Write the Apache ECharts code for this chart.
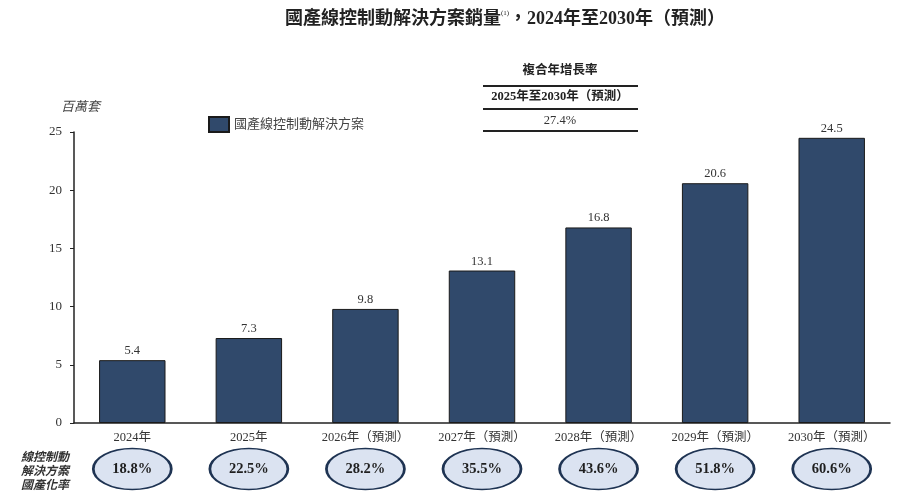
<!DOCTYPE html>
<html>
<head>
<meta charset="utf-8">
<script src="https://cdn.jsdelivr.net/npm/echarts@6/dist/echarts.min.js"></script>
<style>
html,body{margin:0;padding:0;background:#fff;}
#c{width:900px;height:503px;}
</style>
</head>
<body>
<div id="c"></div>
<script>
const categories = ['2024年','2025年','2026年（預測）','2027年（預測）','2028年（預測）','2029年（預測）','2030年（預測）'];
const salesValues = [5.4, 7.3, 9.8, 13.1, 16.8, 20.6, 24.5];
const localizationRates = ['18.8%','22.5%','28.2%','35.5%','43.6%','51.8%','60.6%'];
const yTicks = [0, 5, 10, 15, 20, 25];
const seriesName = '國產線控制動解決方案';
const cagrHeader = '複合年增長率';
const cagrPeriod = '2025年至2030年（預測）';
const cagrValue = '27.4%';

const SERIF = '"Liberation Serif","DejaVu Serif","Noto Sans CJK TC",serif';
const chart = echarts.init(document.getElementById('c'));

chart.setOption({
  backgroundColor: '#ffffff',
  animation: false,
  textStyle: { fontFamily: SERIF },
  legend: {
    left: 203, top: 111,
    itemWidth: 20, itemHeight: 15, itemGap: 6,
    icon: 'rect',
    textStyle: { fontFamily: SERIF, fontSize: 13, color: '#444' },
    data: [seriesName]
  },
  grid: [
    { left: 74, right: 10, top: 132, bottom: 80 },
    { left: 74, right: 10, top: 448, height: 42 }
  ],
  xAxis: [
    {
      type: 'category', gridIndex: 0, data: categories,
      axisLine: { lineStyle: { color: '#222', width: 1.5 } },
      axisTick: { show: false },
      axisLabel: { fontFamily: SERIF, fontSize: 12.5, color: '#333', margin: 8, interval: 0 }
    },
    {
      type: 'category', gridIndex: 1, data: categories,
      axisLine: { show: false }, axisTick: { show: false }, axisLabel: { show: false }
    }
  ],
  yAxis: [
    {
      type: 'value', gridIndex: 0, min: yTicks[0], max: yTicks[yTicks.length - 1], interval: 5,
      axisLine: { show: true, lineStyle: { color: '#222', width: 1.5 } },
      axisTick: { show: true, inside: false, length: 4, lineStyle: { color: '#222' } },
      axisLabel: { fontFamily: SERIF, fontSize: 13, color: '#333', margin: 12 },
      splitLine: { show: false }
    },
    {
      type: 'value', gridIndex: 1, min: -1, max: 1, show: false
    }
  ],
  series: [
    {
      name: seriesName, type: 'bar', xAxisIndex: 0, yAxisIndex: 0,
      data: salesValues, barWidth: '57%',
      itemStyle: { color: '#30496b', borderColor: '#1a1a1a', borderWidth: 1 },
      label: { show: true, position: 'top', distance: 3, fontFamily: SERIF, fontSize: 12.5, color: '#333' }
    },
    {
      type: 'scatter', xAxisIndex: 1, yAxisIndex: 1,
      data: localizationRates.map(() => 0),
      symbol: 'circle', symbolSize: [78, 41],
      itemStyle: { color: '#dbe3f1', borderColor: '#1e3352', borderWidth: 2, opacity: 1 },
      label: {
        show: true, position: 'inside',
        formatter: p => localizationRates[p.dataIndex],
        fontFamily: SERIF, fontSize: 14.5, fontWeight: 'bold', color: '#1f1f1f'
      },
      silent: true
    }
  ],
  graphic: [
    {
      type: 'text', x: 505, y: 10,
      style: {
        align: 'center',
        text: '{t|國產線控制動解決方案銷量}{s|(1)}{t|，2024年至2030年（預測）}',
        rich: {
          t: { fontFamily: SERIF, fontSize: 18, fontWeight: 'bold', fill: '#222' },
          s: { fontFamily: SERIF, fontSize: 7, fill: '#222', verticalAlign: 'top', padding: [0, 0, 9, 0] }
        }
      }
    },
    {
      type: 'text', left: 61, top: 101,
      style: { text: '百萬套', fontFamily: SERIF, fontSize: 13, fontStyle: 'italic', fill: '#444' }
    },
    {
      type: 'text', x: 560, y: 65,
      style: { text: cagrHeader, fontFamily: SERIF, fontSize: 12.5, fontWeight: 'bold', fill: '#222', align: 'center' }
    },
    { type: 'line', shape: { x1: 483, y1: 86, x2: 638, y2: 86 }, style: { stroke: '#222', lineWidth: 2 } },
    {
      type: 'text', x: 560, y: 91,
      style: { text: cagrPeriod, fontFamily: SERIF, fontSize: 12.5, fontWeight: 'bold', fill: '#222', align: 'center' }
    },
    { type: 'line', shape: { x1: 483, y1: 109, x2: 638, y2: 109 }, style: { stroke: '#222', lineWidth: 2 } },
    {
      type: 'text', x: 560, y: 114,
      style: { text: cagrValue, fontFamily: SERIF, fontSize: 12.5, fill: '#333', align: 'center' }
    },
    { type: 'line', shape: { x1: 483, y1: 131, x2: 638, y2: 131 }, style: { stroke: '#222', lineWidth: 2 } },
    {
      type: 'text', x: 45, y: 451,
      style: {
        text: '線控制動\n解決方案\n國產化率',
        fontFamily: SERIF, fontSize: 12, fontWeight: 'bold', fontStyle: 'italic',
        fill: '#333', align: 'center', lineHeight: 14
      }
    }
  ]
});
</script>
</body>
</html>
